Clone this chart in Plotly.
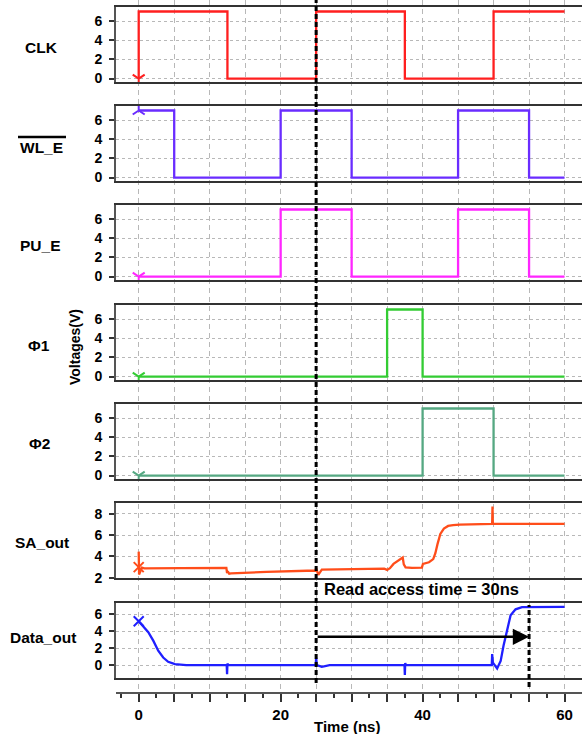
import plotly.graph_objects as go

# ---------------- data ----------------
time_ticks = [0, 5, 10, 15, 20, 25, 30, 35, 40, 45, 50, 55, 60]
time_labels = ["0", "", "", "", "20", "", "", "", "40", "", "", "", "60"]

clk_t = [0, 0, 12.5, 25, 37.5, 50, 60]
clk_v = [0, 7, 0, 7, 0, 7, 7]

wle_t = [0, 5, 20, 30, 45, 55, 60]
wle_v = [7, 0, 7, 0, 7, 0, 0]

pue_t = [0, 20, 30, 45, 55, 60]
pue_v = [0, 7, 0, 7, 0, 0]

phi1_t = [0, 35, 40, 60]
phi1_v = [0, 7, 0, 0]

phi2_t = [0, 40, 50, 60]
phi2_v = [0, 7, 0, 0]

sa_t = [0.0, 0.05, 0.45, 0.8, 6.0, 12.35, 12.45, 12.55, 12.75, 13.0,
        18.0, 24.9, 25.0, 25.3, 25.8, 30.0, 34.6, 35.0, 35.4, 35.9,
        36.5, 37.2, 37.35, 37.6, 38.5, 39.9, 40.05, 40.9, 41.5, 41.8,
        42.1, 42.5, 43.0, 43.6, 44.3, 45.2, 49.8, 49.85, 49.9, 60.0]
sa_v = [4.45, 2.3, 2.95, 2.88, 2.9, 2.92, 2.45, 2.6, 2.38, 2.42,
        2.55, 2.68, 2.9, 2.28, 2.77, 2.8, 2.85, 2.74, 2.9, 3.3,
        3.55, 3.9, 3.25, 2.98, 2.92, 2.95, 3.3, 3.45, 3.75, 4.3,
        5.15, 6.1, 6.6, 6.85, 6.93, 6.98, 7.04, 8.68, 7.04, 7.05]

do_t = [0.0, 0.3, 0.65, 1.35, 2.05, 2.75, 3.45, 4.15, 5.1, 6.7,
        12.4, 12.45, 12.5, 12.6, 24.95, 25.0, 25.1, 25.8, 26.9,
        37.45, 37.5, 37.55, 37.65, 49.75, 49.8, 49.9, 50.5, 51.0,
        51.4, 51.9, 52.4, 53.1, 54.0, 60.0]
do_v = [5.2, 4.9, 4.6, 3.9, 2.9, 1.7, 0.9, 0.4, 0.12, 0.0,
        0.0, -1.07, 0.2, 0.0, 0.0, 0.9, 0.0, -0.2, 0.0,
        0.0, -1.15, 0.25, 0.0, 0.0, 1.3, 0.3, -0.4, 0.5,
        2.3, 4.3, 5.9, 6.6, 6.87, 6.9]

# cursor marker values at t = 0
cursor_t = 0
cursor_v = [0, 7, 0, 0, 0, 3.0, 5.2]

signal_names = ["CLK", "WL_E", "PU_E", "\u03a61", "\u03a62", "SA_out", "Data_out"]
digital_ticks = [0, 2, 4, 6]
sa_ticks = [2, 4, 6, 8]

access_start = 25
access_end = 55
access_level = 3.35
access_text = "Read access time = 30ns"

# ---------------- layout helpers ----------------
W, H = 582, 734
FONT = "Liberation Sans"


def py(px):
    return 1 - px / H


def pxx(px):
    return px / W


x_range = [-3.2, 62.46]
x_dom = [pxx(116), 1.0]
panel_tops = [7, 106, 205, 305, 404, 503, 603]
panel_h = 75

panels = [
    dict(t=clk_t, v=clk_v, color="#ff1f1f", shape="hv", yr=[-0.36, 7.47], ticks=digital_ticks, sym="y-down"),
    dict(t=wle_t, v=wle_v, color="#6a2cff", shape="hv", yr=[-0.36, 7.47], ticks=digital_ticks, sym="y-up"),
    dict(t=pue_t, v=pue_v, color="#ff26ff", shape="hv", yr=[-0.36, 7.47], ticks=digital_ticks, sym="y-down"),
    dict(t=phi1_t, v=phi1_v, color="#33cc33", shape="hv", yr=[-0.36, 7.47], ticks=digital_ticks, sym="y-down"),
    dict(t=phi2_t, v=phi2_v, color="#55a882", shape="hv", yr=[-0.36, 7.47], ticks=digital_ticks, sym="y-down"),
    dict(t=sa_t, v=sa_v, color="#ff4d1a", shape="linear", yr=[1.98, 9.0], ticks=sa_ticks, sym="x-thin"),
    dict(t=do_t, v=do_v, color="#1f1fff", shape="linear", yr=[-1.52, 7.35], ticks=digital_ticks, sym="x-thin"),
]

fig = go.Figure()

# background subplot: vertical grid + time axis
fig.add_trace(go.Scatter(x=[None], y=[None], xaxis="x", yaxis="y",
                         showlegend=False, hoverinfo="skip"))

layout = dict(
    width=W, height=H,
    margin=dict(l=0, r=0, t=0, b=0),
    paper_bgcolor="white",
    plot_bgcolor="rgba(0,0,0,0)",
    showlegend=False,
    template="none",
    font=dict(family=FONT, color="black"),
    xaxis=dict(
        domain=x_dom, range=x_range, anchor="y",
        tickmode="array", tickvals=time_ticks, ticktext=time_labels,
        showgrid=True, gridcolor="#b8b8b8", gridwidth=1, griddash="5px,4px",
        ticks="outside", ticklen=8, tickwidth=1.5, tickcolor="#333",
        showline=True, linecolor="#555", linewidth=2, zeroline=False,
        tickfont=dict(family=FONT, size=15, weight="bold", color="black"),
        minor=dict(tickmode="linear", tick0=0, dtick=2.5, ticks="outside",
                   ticklen=4, tickcolor="#333", showgrid=False),
        automargin=False, fixedrange=True,
    ),
    yaxis=dict(domain=[py(692), 1.0], range=[0, 1], visible=False,
               fixedrange=True),
)

for i, p in enumerate(panels):
    idx = i + 2
    fig.add_trace(go.Scatter(
        x=p["t"], y=p["v"], mode="lines", line=dict(color=p["color"], width=2.3, shape=p["shape"]),
        xaxis=f"x{idx}", yaxis=f"y{idx}", showlegend=False, hoverinfo="skip"))
    fig.add_trace(go.Scatter(
        x=[cursor_t], y=[cursor_v[i]], mode="markers",
        marker=dict(symbol=p["sym"], size=10, line=dict(color=p["color"], width=2)),
        xaxis=f"x{idx}", yaxis=f"y{idx}", showlegend=False, hoverinfo="skip"))
    top = panel_tops[i]
    layout[f"xaxis{idx}"] = dict(
        domain=x_dom, range=x_range, anchor=f"y{idx}",
        showgrid=False, showticklabels=False, ticks="", zeroline=False,
        showline=True, mirror=True, linecolor="#333", linewidth=1.5,
        automargin=False, fixedrange=True)
    layout[f"yaxis{idx}"] = dict(
        domain=[py(top + panel_h), py(top)], range=p["yr"], anchor=f"x{idx}",
        tickmode="array", tickvals=p["ticks"],
        showgrid=True, gridcolor="#b8b8b8", gridwidth=1, griddash="3px,3px",
        ticks="outside", ticklen=5, tickcolor="#333", tickwidth=1.5,
        ticklabelstandoff=4,
        tickfont=dict(family=FONT, size=14, weight="bold", color="black"),
        showline=True, linecolor="#555", linewidth=2, zeroline=False,
        automargin=False, fixedrange=True)

label_pos = [(41, 47), (42, 148), (40, 246), (39, 345), (39, 443), (42, 542), (43, 637)]
annotations = []
for name, (lx, ly) in zip(signal_names, label_pos):
    annotations.append(dict(
        text=name, x=pxx(lx), y=py(ly), xref="paper", yref="paper",
        xanchor="center", yanchor="middle", showarrow=False,
        font=dict(family=FONT, size=15.5, weight="bold", color="black")))

annotations.append(dict(
    text="Voltages(V)", x=pxx(75), y=py(347), xref="paper", yref="paper",
    xanchor="center", yanchor="middle", showarrow=False, textangle=-90,
    font=dict(family=FONT, size=14, weight="bold", color="black")))

annotations.append(dict(
    text="Time (ns)", x=pxx(347), y=py(726), xref="paper", yref="paper",
    xanchor="center", yanchor="middle", showarrow=False,
    font=dict(family=FONT, size=15, weight="bold", color="black")))

annotations.append(dict(
    text=access_text, x=access_start + 0.8, y=py(589), xref="x8", yref="paper",
    xanchor="left", yanchor="middle", showarrow=False,
    font=dict(family=FONT, size=16.5, weight="bold", color="black")))

annotations.append(dict(
    text="", x=access_end, y=access_level, xref="x8", yref="y8",
    ax=access_start, ay=access_level, axref="x8", ayref="y8",
    showarrow=True, arrowhead=2, arrowsize=1.3, arrowwidth=2.5,
    arrowcolor="black", standoff=0))

shapes = [
    dict(type="line", xref="x", yref="paper", x0=access_start, x1=access_start,
         y0=py(683), y1=1.0, line=dict(color="black", width=3, dash="5px,3px")),
    dict(type="line", xref="x", yref="paper", x0=access_end, x1=access_end,
         y0=py(687), y1=py(605), line=dict(color="black", width=3, dash="5px,3px")),
    # overline on WL_E label
    dict(type="line", xref="paper", yref="paper", x0=pxx(18), x1=pxx(66),
         y0=py(137), y1=py(137), line=dict(color="black", width=2.5)),
]

layout["annotations"] = annotations
layout["shapes"] = shapes
fig.update_layout(**layout)

fig.write_html(
    "out.html",
    config={"displayModeBar": False},
    post_script="document.body.style.margin='0';document.body.style.overflow='hidden';",
)
